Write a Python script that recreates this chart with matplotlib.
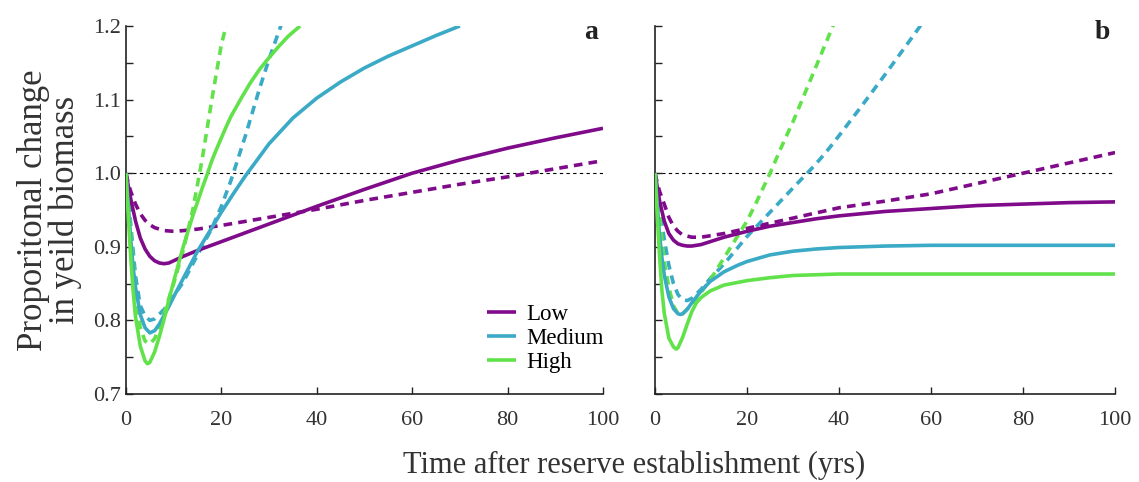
import numpy as np
import matplotlib
matplotlib.use('Agg')
import matplotlib.pyplot as plt
from matplotlib.ticker import MultipleLocator

plt.rcParams['font.family'] = ['Liberation Serif', 'DejaVu Serif']

# colours for the three fishing pressures
purple = '#7f0a8a'
blue = '#3aaac6'
green = '#62e24a'
levels = ['Low', 'Medium', 'High']

# ---- panel a ----
a_low_x = [0, 0.5, 1, 2, 3, 4, 5, 6, 7, 8, 9, 10, 12, 15, 20, 25, 30, 35, 40, 50, 60, 70, 80, 90, 100]
a_low_y = [1.0, 0.982, 0.965, 0.935, 0.912, 0.897, 0.887, 0.881, 0.878, 0.877, 0.878, 0.881,
           0.887, 0.895, 0.907, 0.919, 0.931, 0.943, 0.955, 0.978, 1.0, 1.018, 1.034, 1.048, 1.061]
a_low_dx = [0, 0.5, 1, 2, 3, 4, 5, 6, 8, 10, 12, 15, 20, 30, 40, 50, 60, 70, 80, 90, 100]
a_low_dy = [1.0, 0.986, 0.975, 0.958, 0.945, 0.936, 0.930, 0.926, 0.922, 0.921, 0.922, 0.924,
            0.929, 0.940, 0.951, 0.963, 0.974, 0.985, 0.995, 1.006, 1.017]

a_med_x = [0, 0.5, 1, 1.5, 2, 3, 4, 5, 6, 7, 8, 9, 10, 12, 15, 18, 20, 22.5, 25, 30, 35, 40,
           45, 50, 55, 60, 65, 70]
a_med_y = [1.0, 0.955, 0.91, 0.872, 0.845, 0.808, 0.790, 0.783, 0.786, 0.795, 0.807, 0.819,
           0.832, 0.857, 0.894, 0.926, 0.947, 0.972, 0.996, 1.040, 1.075, 1.102, 1.124, 1.143,
           1.159, 1.173, 1.187, 1.2]
a_med_dx = [0, 1, 2, 3, 4, 5, 6, 8, 10, 12, 15, 18, 20, 22, 25, 28, 30, 33]
a_med_dy = [1.0, 0.93, 0.86, 0.82, 0.806, 0.80, 0.802, 0.815, 0.833, 0.852, 0.889, 0.925,
            0.955, 0.99, 1.05, 1.115, 1.155, 1.21]

a_high_x = [0, 0.5, 1, 1.5, 2, 3, 4, 4.5, 5, 6, 7, 8, 9, 10, 12, 14, 16, 17, 18, 19, 20, 21,
            22, 24, 26, 28, 30, 32, 34, 36.5]
a_high_y = [1.0, 0.94, 0.885, 0.84, 0.805, 0.765, 0.745, 0.741, 0.743, 0.757, 0.778, 0.802,
            0.828, 0.853, 0.900, 0.942, 0.980, 0.998, 1.017, 1.033, 1.048, 1.063, 1.077, 1.100,
            1.122, 1.141, 1.157, 1.172, 1.186, 1.2]
a_high_dx = [0, 1, 2, 3, 4, 5, 6, 7, 8, 10, 12, 14, 16, 18, 20, 21]
a_high_dy = [1.0, 0.92, 0.84, 0.79, 0.772, 0.768, 0.775, 0.79, 0.81, 0.85, 0.895, 0.95,
             1.02, 1.10, 1.175, 1.2]

# ---- panel b ----
b_low_x = [0, 0.5, 1, 2, 3, 4, 5, 6, 7, 8, 10, 12, 15, 20, 25, 30, 35, 40, 50, 60, 70, 80, 90, 100]
b_low_y = [1.0, 0.98, 0.962, 0.935, 0.918, 0.909, 0.904, 0.902, 0.901, 0.901, 0.903, 0.907,
           0.913, 0.921, 0.928, 0.933, 0.938, 0.942, 0.948, 0.952, 0.956, 0.958, 0.960, 0.961]
b_low_dx = [0, 0.5, 1, 2, 3, 4, 5, 6, 8, 10, 12, 15, 20, 30, 40, 50, 60, 70, 80, 90, 100]
b_low_dy = [1.0, 0.986, 0.975, 0.958, 0.940, 0.928, 0.921, 0.916, 0.913, 0.913, 0.915, 0.918,
            0.925, 0.939, 0.953, 0.962, 0.972, 0.986, 1.0, 1.014, 1.028]

b_med_x = [0, 0.5, 1, 1.5, 2, 3, 4, 5, 5.5, 6, 7, 8, 10, 12, 15, 18, 20, 25, 30, 35, 40, 50,
           60, 100]
b_med_y = [1.0, 0.955, 0.915, 0.885, 0.862, 0.832, 0.816, 0.809, 0.808, 0.809, 0.815, 0.824,
           0.840, 0.853, 0.866, 0.875, 0.880, 0.889, 0.894, 0.897, 0.899, 0.901, 0.902, 0.902]
b_med_dx = [0, 1, 2, 3, 4, 5, 6, 7, 8, 10, 12, 14, 16, 18, 20, 25, 30, 32, 34, 36, 38, 40,
            45, 50, 55, 58]
b_med_dy = [1.0, 0.955, 0.91, 0.875, 0.85, 0.835, 0.828, 0.827, 0.83, 0.842, 0.857, 0.870,
            0.884, 0.899, 0.914, 0.947, 0.980, 0.993, 1.006, 1.020, 1.035, 1.051, 1.092, 1.134,
            1.177, 1.203]

b_high_x = [0, 0.5, 1, 1.5, 2, 3, 4, 4.6, 5, 6, 7, 8, 9, 10, 12, 15, 20, 25, 30, 40, 100]
b_high_y = [1.0, 0.94, 0.885, 0.84, 0.81, 0.776, 0.764, 0.761, 0.763, 0.777, 0.795, 0.812,
            0.824, 0.831, 0.840, 0.848, 0.854, 0.858, 0.861, 0.863, 0.863]
b_high_dx = [0, 1, 2, 3, 4, 5, 5.5, 6, 8, 10, 12, 15, 18, 20, 22, 25, 28, 30, 33, 36, 39]
b_high_dy = [1.0, 0.94, 0.88, 0.845, 0.82, 0.809, 0.807, 0.809, 0.822, 0.838, 0.855, 0.885,
             0.915, 0.935, 0.96, 1.0, 1.043, 1.07, 1.115, 1.16, 1.205]

x_ticks = [0, 20, 40, 60, 80, 100]
y_ticks = [0.7, 0.8, 0.9, 1.0, 1.1, 1.2]
y_labels = ['0.7', '0.8', '0.9', '1.0', '1.1', '1.2']

fig = plt.figure(figsize=(11.39, 4.82), dpi=100)
ax_a = fig.add_axes([0.1106, 0.1826, 0.4188, 0.7635])
ax_b = fig.add_axes([0.5751, 0.1826, 0.4039, 0.7635])

panels = [
    (ax_a, 'a', [(a_low_x, a_low_y, a_low_dx, a_low_dy),
                 (a_med_x, a_med_y, a_med_dx, a_med_dy),
                 (a_high_x, a_high_y, a_high_dx, a_high_dy)]),
    (ax_b, 'b', [(b_low_x, b_low_y, b_low_dx, b_low_dy),
                 (b_med_x, b_med_y, b_med_dx, b_med_dy),
                 (b_high_x, b_high_y, b_high_dx, b_high_dy)]),
]

for ax, letter, series in panels:
    ax.axhline(1.0, color='black', lw=0.8, ls=(0, (3, 3)), zorder=1)
    for (sx, sy, dx, dy), col, lab in zip(series, [purple, blue, green], levels):
        ax.plot(sx, sy, color=col, lw=2.6, label=lab, solid_capstyle='butt', zorder=3)
        ax.plot(dx, dy, color=col, lw=2.6, ls=(0, (2.4, 1.7)), zorder=2)
    ax.set_xlim(0, 100)
    ax.set_ylim(0.7, 1.2)
    ax.set_xticks(x_ticks)
    ax.set_yticks(y_ticks)
    ax.yaxis.set_minor_locator(MultipleLocator(0.05))
    for s in ['top', 'right']:
        ax.spines[s].set_visible(False)
    for s in ['left', 'bottom']:
        ax.spines[s].set_linewidth(1.2)
        ax.spines[s].set_color('#222222')
    ax.tick_params(which='both', direction='in', length=5, width=1, colors='#222222',
                   labelsize=16, labelcolor='#333333')
    ax.tick_params(axis='x', pad=12)
    ax.text(99, 1.182, letter, ha='right', va='baseline',
            fontsize=20, fontweight='bold', color='#222222')

ax_a.set_yticklabels(y_labels)
ax_b.tick_params(axis='y', labelleft=False)

ax_a.set_ylabel('Proporitonal change\nin yeild biomass', fontsize=25, color='#333333',
                labelpad=8, linespacing=0.95)
fig.text(0.557, 0.035, 'Time after reserve establishment (yrs)', ha='center', va='center',
         fontsize=22, color='#333333')

ax_a.legend(loc='lower right', bbox_to_anchor=(1.03, 0.02), frameon=False, fontsize=16.5,
            handlelength=1.25, handletextpad=0.45, labelspacing=0.12, borderaxespad=0.2)

fig.savefig('out.png', dpi=100)
